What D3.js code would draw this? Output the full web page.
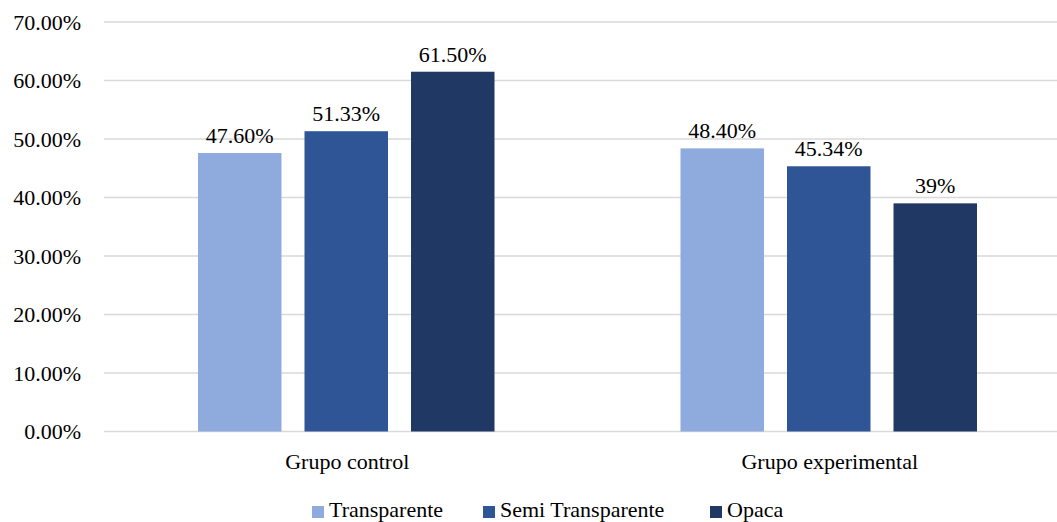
<!DOCTYPE html>
<html><head><meta charset="utf-8">
<script src="https://cdn.jsdelivr.net/npm/d3@7"></script>
<style>body{margin:0;background:#fff}svg{display:block}svg text{font-family:"Liberation Serif","Tinos","DejaVu Serif","Noto Serif",serif}</style>
</head><body><svg id="c" width="1057" height="522"></svg>
<script>
const categories = ["Grupo control", "Grupo experimental"];
const seriesNames = ["Transparente", "Semi Transparente", "Opaca"];
const transparente = [0.476, 0.484];
const semiTransparente = [0.5133, 0.4534];
const opaca = [0.615, 0.39];
const labelsTransparente = ["47.60%", "48.40%"];
const labelsSemi = ["51.33%", "45.34%"];
const labelsOpaca = ["61.50%", "39%"];
const yTicks = [0, 0.1, 0.2, 0.3, 0.4, 0.5, 0.6, 0.7];
const colors = ["#8FAADC", "#2F5597", "#203864"];

const series = [
  {name: seriesNames[0], values: transparente, labels: labelsTransparente},
  {name: seriesNames[1], values: semiTransparente, labels: labelsSemi},
  {name: seriesNames[2], values: opaca, labels: labelsOpaca}
];

const FS = "22px";
const svg = d3.select("#c");
const y = d3.scaleLinear().domain([0, 0.7]).range([431.5, 22]);
const x0 = d3.scaleBand().domain(categories).range([105, 1070]).paddingInner(0).paddingOuter(0);
const innerW = 296.5;
const x1 = d3.scaleBand().domain(seriesNames).range([0, innerW]).paddingInner(0.216).paddingOuter(0);

svg.append("g").selectAll("line").data(yTicks).join("line")
  .attr("x1", 104).attr("x2", 1057)
  .attr("y1", d => y(d)).attr("y2", d => y(d))
  .attr("stroke", "#d9d9d9").attr("stroke-width", 1.5);

svg.append("g").selectAll("text").data(yTicks).join("text")
  .attr("x", 81).attr("y", d => y(d)).attr("dy", "0.35em")
  .attr("text-anchor", "end").style("font-size", FS)
  .text(d => d3.format(".2%")(d));

const groups = svg.append("g").selectAll("g").data(categories).join("g")
  .attr("transform", c => `translate(${x0(c) + (x0.bandwidth() - innerW) / 2},0)`);

series.forEach((s, si) => {
  groups.append("rect")
    .attr("x", x1(s.name))
    .attr("width", x1.bandwidth())
    .attr("y", (c, i) => y(s.values[i]))
    .attr("height", (c, i) => y(0) - y(s.values[i]))
    .attr("fill", colors[si]);
  groups.append("text")
    .attr("x", x1(s.name) + x1.bandwidth() / 2)
    .attr("y", (c, i) => y(s.values[i]) - 10)
    .attr("text-anchor", "middle").style("font-size", FS)
    .text((c, i) => s.labels[i]);
});

svg.append("g").selectAll("text").data(categories).join("text")
  .attr("x", c => x0(c) + x0.bandwidth() / 2 + 1)
  .attr("y", 469).attr("text-anchor", "middle").style("font-size", FS)
  .text(c => c);

const legendX = [312, 483, 710];
const lg = svg.append("g").selectAll("g").data(series).join("g")
  .attr("transform", (d, i) => `translate(${legendX[i]},0)`);
lg.append("rect").attr("x", 0).attr("y", 506).attr("width", 12).attr("height", 12)
  .attr("fill", (d, i) => colors[i]);
lg.append("text").attr("x", 17).attr("y", 517).style("font-size", FS).text(d => d.name);
</script></body></html>
